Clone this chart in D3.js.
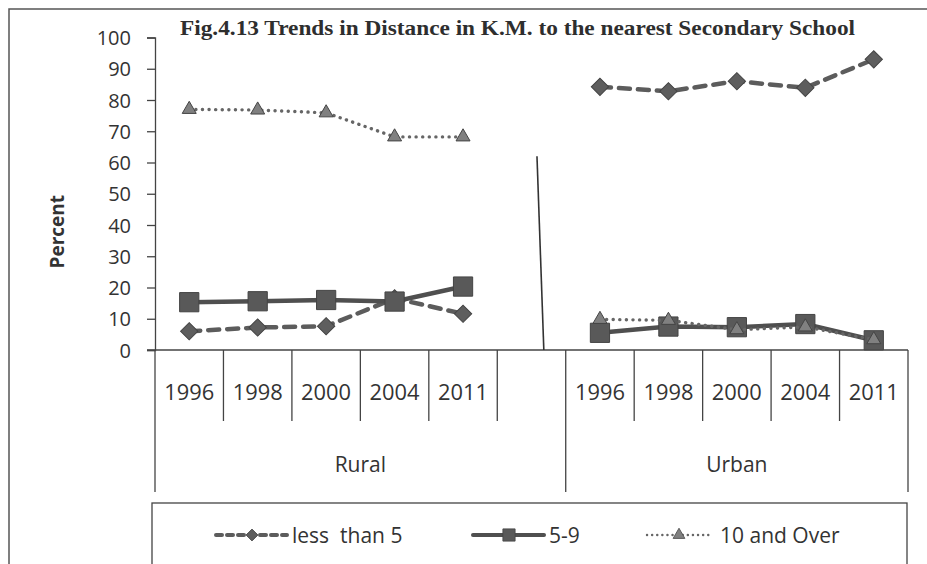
<!DOCTYPE html>
<html>
<head>
<meta charset="utf-8">
<script src="https://cdn.jsdelivr.net/npm/d3@7"></script>
<style>
  body { margin: 0; background: #fff; }
  text { fill: #333; white-space: pre; }
</style>
</head>
<body>
<div id="chart"></div>
<script>
// values
const years = ['1996', '1998', '2000', '2004', '2011']
const groups = ['Rural', 'Urban']
const lessThan5Rural = [6, 7.2, 7.6, 16.5, 11.6]
const lessThan5Urban = [84.2, 82.8, 86, 83.9, 93]
const from5to9Rural = [15.3, 15.6, 16, 15.5, 20.3]
const from5to9Urban = [5.5, 7.5, 7.3, 8.3, 3.1]
const over10Rural = [77, 76.8, 75.9, 68.2, 68.2]
const over10Urban = [9.8, 9.5, 6.5, 7.4, 3.3]
const yTicks = [0, 10, 20, 30, 40, 50, 60, 70, 80, 90, 100]
// stray vertical rule in the gap between the groups
const gapRule = [{ offset: 0.58, value: 62 }, { offset: 0.68, value: 0 }]

const width = 927
const height = 564

// slots: 5 rural years, one empty slot, 5 urban years
const slots = [
  ...years.map(y => 'Rural-' + y),
  'gap',
  ...years.map(y => 'Urban-' + y)
]
const groupSlots = {
  Rural: slots.slice(0, 6),
  Urban: slots.slice(6)
}

const x = d3.scaleBand().domain(slots).range([155, 908]).padding(0)
const y = d3.scaleLinear().domain([0, 100]).range([350, 37.5])

const series = [
  {
    name: 'less  than 5',
    rural: lessThan5Rural,
    urban: lessThan5Urban,
    dash: '11,8',
    width: 4.5,
    color: '#5c5c5c',
    marker: 'diamond'
  },
  {
    name: '5-9',
    rural: from5to9Rural,
    urban: from5to9Urban,
    dash: null,
    width: 4.5,
    color: '#4f4f4f',
    marker: 'square'
  },
  {
    name: '10 and Over',
    rural: over10Rural,
    urban: over10Urban,
    dash: '0.1,6.5',
    width: 3.4,
    color: '#666',
    marker: 'triangle'
  }
]

const svg = d3.select('#chart')
  .append('svg')
  .attr('width', width)
  .attr('height', height)
  .style('font-family', '"Open Sans", sans-serif')

// scanned page frame (top and left edges only)
svg.append('path')
  .attr('d', `M9,${height} V9 H${width}`)
  .attr('fill', 'none')
  .attr('stroke', '#555')
  .attr('stroke-width', 1.5)

svg.append('text')
  .attr('x', 180)
  .attr('y', 35)
  .attr('textLength', 675)
  .attr('lengthAdjust', 'spacingAndGlyphs')
  .style('font-family', '"Liberation Serif", "Times New Roman", serif')
  .style('font-weight', 'bold')
  .style('font-size', '21px')
  .style('fill', '#2e2e2e')
  .text('Fig.4.13 Trends in Distance in K.M. to the nearest Secondary School')

// y axis
const yAxis = svg.append('g')
  .attr('transform', 'translate(155,0)')
  .call(d3.axisLeft(y).tickValues(yTicks).tickSize(8).tickPadding(16))
yAxis.select('.domain').attr('stroke', '#444').attr('stroke-width', 1.3)
yAxis.selectAll('.tick line').attr('stroke', '#444').attr('stroke-width', 1.3)
yAxis.selectAll('.tick text')
  .style('font-family', '"Open Sans", sans-serif')
  .style('font-size', '20px')
  .attr('fill', '#333')
  .attr('dy', '0.35em')

svg.append('text')
  .attr('transform', `translate(64,${y(50) + 38}) rotate(-90)`)
  .attr('text-anchor', 'middle')
  .style('font-weight', 'bold')
  .style('font-size', '19px')
  .text('Percent')

// category axis: baseline, year cells, group cells
const axisG = svg.append('g').attr('stroke', '#444').attr('stroke-width', 1.3)
axisG.append('line')
  .attr('x1', 147).attr('x2', x.range()[1])
  .attr('y1', y(0)).attr('y2', y(0))

const inner = slots.slice(1)
axisG.selectAll('.yearsep')
  .data(inner.filter(s => s !== 'Urban-1996'))
  .join('line')
  .attr('x1', d => x(d)).attr('x2', d => x(d))
  .attr('y1', y(0)).attr('y2', 421)

const groupEdges = [x('Rural-1996'), x('Urban-1996'), x.range()[1]]
axisG.selectAll('.groupsep')
  .data(groupEdges)
  .join('line')
  .attr('x1', d => d).attr('x2', d => d)
  .attr('y1', y(0)).attr('y2', 492)

svg.append('g')
  .selectAll('text')
  .data(slots.filter(s => s !== 'gap'))
  .join('text')
  .attr('x', d => x(d) + x.bandwidth() / 2)
  .attr('y', 400)
  .attr('text-anchor', 'middle')
  .style('font-size', '21.5px')
  .attr('textLength', 50)
  .attr('lengthAdjust', 'spacingAndGlyphs')
  .text(d => d.split('-')[1])

svg.append('g')
  .selectAll('text')
  .data(groups)
  .join('text')
  .attr('x', g => {
    const s = groupSlots[g]
    return (x(s[0]) + x(s[s.length - 1]) + x.bandwidth()) / 2
  })
  .attr('y', 472)
  .attr('text-anchor', 'middle')
  .style('font-size', '21px')
  .text(g => g)

// stray rule between groups
svg.append('line')
  .attr('x1', x('gap') + gapRule[0].offset * x.bandwidth())
  .attr('y1', y(gapRule[0].value))
  .attr('x2', x('gap') + gapRule[1].offset * x.bandwidth())
  .attr('y2', y(gapRule[1].value))
  .attr('stroke', '#333')
  .attr('stroke-width', 1.6)

function markerPath(type) {
  if (type === 'diamond') return d3.symbol().type(d3.symbolSquare).size(150)()
  if (type === 'square') return d3.symbol().type(d3.symbolSquare).size(370)()
  return d3.symbol().type(d3.symbolTriangle).size(85)()
}

function markerFill(type) {
  if (type === 'diamond') return '#5e5e5e'
  if (type === 'square') return '#595959'
  return '#808080'
}

const line = d3.line()
  .x(d => x(d.slot) + x.bandwidth() / 2)
  .y(d => y(d.value))

const plot = svg.append('g')
series.forEach(s => {
  const parts = [
    years.map((yr, i) => ({ slot: 'Rural-' + yr, value: s.rural[i] })),
    years.map((yr, i) => ({ slot: 'Urban-' + yr, value: s.urban[i] }))
  ]
  const g = plot.append('g')
  g.selectAll('path.line')
    .data(parts)
    .join('path')
    .attr('class', 'line')
    .attr('d', line)
    .attr('fill', 'none')
    .attr('stroke', s.color)
    .attr('stroke-width', s.width)
    .attr('stroke-linecap', 'round')
    .attr('stroke-dasharray', s.dash)
  g.selectAll('path.marker')
    .data(parts.flat())
    .join('path')
    .attr('class', 'marker')
    .attr('d', markerPath(s.marker))
    .attr('transform', d => {
      const rot = s.marker === 'diamond' ? ' rotate(45)' : ''
      return `translate(${x(d.slot) + x.bandwidth() / 2},${y(d.value)})${rot}`
    })
    .attr('fill', markerFill(s.marker))
    .attr('stroke', '#444')
    .attr('stroke-width', 1)
})

// legend
const legend = svg.append('g')
legend.append('rect')
  .attr('x', 152).attr('y', 503)
  .attr('width', 755).attr('height', 80)
  .attr('fill', 'none')
  .attr('stroke', '#444')
  .attr('stroke-width', 1.3)

const legendX = [216, 473, 647]
const legendItems = legend.selectAll('g.item')
  .data(series)
  .join('g')
  .attr('class', 'item')
  .attr('transform', (d, i) => `translate(${legendX[i]},535)`)

legendItems.append('line')
  .attr('x1', 0).attr('x2', (d, i) => (i === 2 ? 64 : 71))
  .attr('stroke', d => d.color)
  .attr('stroke-width', d => (d.marker === 'triangle' ? 2.4 : 4))
  .attr('stroke-linecap', 'round')
  .attr('stroke-dasharray', d => (d.marker === 'diamond' ? '6,5' : d.marker === 'triangle' ? '0.1,5' : null))

legendItems.append('path')
  .attr('d', d => d3.symbol().type(d.marker === 'triangle' ? d3.symbolTriangle : d3.symbolSquare)
    .size(d.marker === 'diamond' ? 70 : d.marker === 'square' ? 150 : 60)())
  .attr('transform', (d, i) => {
    const cx = i === 2 ? 32 : 36
    return `translate(${cx},0)` + (d.marker === 'diamond' ? ' rotate(45)' : '')
  })
  .attr('fill', d => markerFill(d.marker))
  .attr('stroke', '#444')
  .attr('stroke-width', 0.8)

legendItems.append('text')
  .attr('x', (d, i) => (i === 2 ? 73 : 76))
  .attr('y', 7.5)
  .style('font-size', '21px')
  .text(d => d.name)
</script>
</body>
</html>
